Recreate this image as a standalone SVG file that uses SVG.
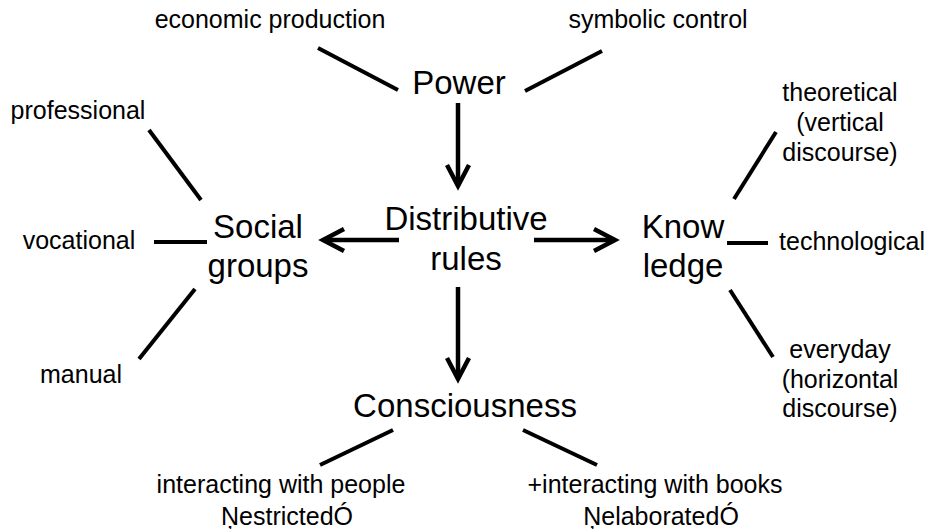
<svg xmlns="http://www.w3.org/2000/svg" width="931" height="529" viewBox="0 0 931 529">
<style>
text{font-family:"Liberation Sans",Arial,Helvetica,sans-serif;fill:#000;text-anchor:middle}
.s{font-size:25px}
.b{font-size:33px}
.ln{stroke:#000;stroke-width:4;fill:none}
.ar{stroke:#000;stroke-width:4.5;fill:none;marker-end:url(#chev)}
</style>
<defs>
<marker id="chev" markerUnits="userSpaceOnUse" markerWidth="30" markerHeight="30" refX="0" refY="0" orient="auto" overflow="visible">
<path d="M-21,-11 L0,0 L-21,11" stroke="#000" stroke-width="4.5" fill="none"/>
</marker>
</defs>
<rect width="931" height="529" fill="#fff"/>
<g id="connectors">
<line class="ln" x1="318" y1="48" x2="398" y2="90"/>
<line class="ln" x1="525" y1="91" x2="602" y2="51"/>
<line class="ar" x1="458" y1="103" x2="458" y2="186"/>
<line class="ar" x1="399" y1="240" x2="323" y2="240"/>
<line class="ar" x1="534" y1="240" x2="615" y2="240"/>
<line class="ar" x1="458" y1="287" x2="458" y2="379"/>
<line class="ln" x1="149" y1="130" x2="201" y2="200"/>
<line class="ln" x1="154" y1="242" x2="207" y2="242"/>
<line class="ln" x1="195" y1="289" x2="139" y2="359"/>
<line class="ln" x1="776" y1="132" x2="734" y2="199"/>
<line class="ln" x1="727" y1="243" x2="768" y2="243"/>
<line class="ln" x1="730" y1="290" x2="773" y2="357"/>
<line class="ln" x1="393" y1="430" x2="320" y2="465"/>
<line class="ln" x1="523" y1="430" x2="597" y2="465"/>
</g>
<g id="power"><text class="b" x="459" y="94">Power</text></g>
<g id="economic"><text class="s" x="270" y="28">economic production</text></g>
<g id="symbolic"><text class="s" x="658" y="28">symbolic control</text></g>
<g id="distributive"><text class="b" x="466" y="230">Distributive</text><text class="b" x="466" y="270">rules</text></g>
<g id="social"><text class="b" x="258" y="238">Social</text><text class="b" x="258" y="277">groups</text></g>
<g id="professional"><text class="s" x="78" y="119">professional</text></g>
<g id="vocational"><text class="s" x="79" y="249">vocational</text></g>
<g id="manual"><text class="s" x="81" y="383">manual</text></g>
<g id="knowledge"><text class="b" x="683" y="238">Know</text><text class="b" x="683" y="277">ledge</text></g>
<g id="theoretical"><text class="s" x="840" y="101">theoretical</text><text class="s" x="840" y="131">(vertical</text><text class="s" x="840" y="161">discourse)</text></g>
<g id="technological"><text class="s" x="852" y="250">technological</text></g>
<g id="everyday"><text class="s" x="840" y="358">everyday</text><text class="s" x="840" y="388">(horizontal</text><text class="s" x="840" y="417">discourse)</text></g>
<g id="consciousness"><text class="b" x="465" y="417">Consciousness</text></g>
<g id="people"><text class="s" x="281" y="493">interacting with people</text><text class="s" x="287" y="525">ŅestrictedÓ</text></g>
<g id="books"><text class="s" x="655" y="493">+interacting with books</text><text class="s" x="661" y="525">ŅelaboratedÓ</text></g>
</svg>
